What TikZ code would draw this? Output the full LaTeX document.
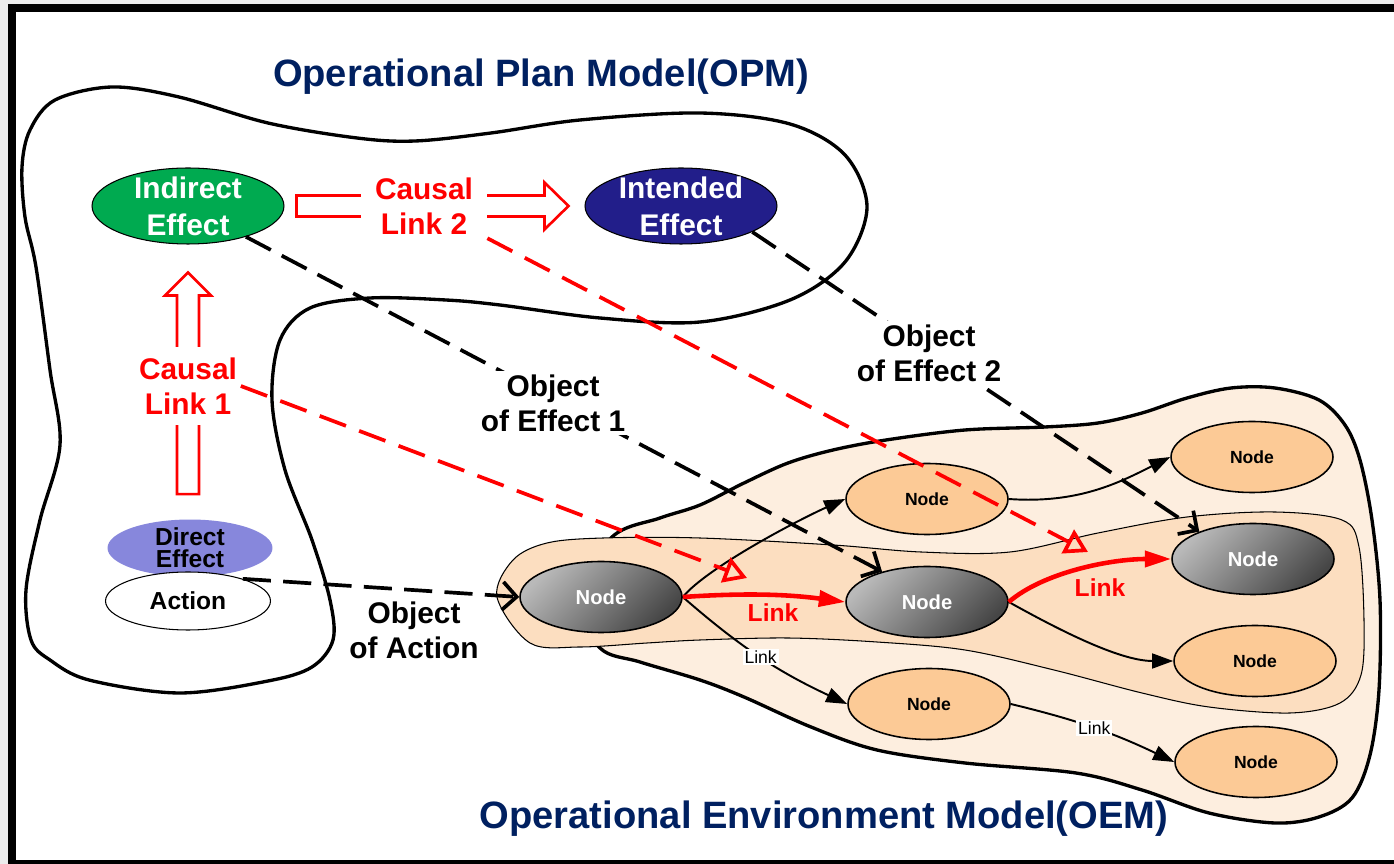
\documentclass[tikz,border=0pt]{standalone}
\usepackage{fontspec}
\setmainfont{Liberation Sans}
\usetikzlibrary{calc,shapes.geometric,arrows.meta}

\definecolor{framegray}{RGB}{236,236,236}
\definecolor{opmnavy}{RGB}{0,32,96}
\definecolor{effgreen}{RGB}{0,170,80}
\definecolor{effnavy}{RGB}{34,30,138}
\definecolor{effviolet}{RGB}{135,135,220}
\definecolor{oemout}{RGB}{253,238,223}
\definecolor{oemin}{RGB}{252,222,192}
\definecolor{nodelite}{RGB}{252,202,150}
\definecolor{nodehi}{RGB}{185,185,185}
\definecolor{nodelo}{RGB}{70,70,70}

\tikzset{
  effect/.style={ellipse, draw=black, line width=0.6pt, minimum width=3.84cm, minimum height=1.52cm,
    inner xsep=0pt, inner ysep=-6pt, align=center, text=white, font=\bfseries\fontsize{17}{21}\selectfont},
  cause/.style={ellipse, minimum width=3.3cm, minimum height=1.14cm, inner sep=0pt, align=center,
    font=\bfseries\fontsize{14}{12.5}\selectfont},
  env/.style={ellipse, draw=black, line width=0.9pt, minimum width=3.24cm, minimum height=1.42cm, inner sep=0pt},
  lite/.style={env, fill=nodelite, font=\bfseries\fontsize{10}{12}\selectfont},
  dark/.style={env, top color=nodehi, bottom color=nodelo, shading angle=45, text=white,
    font=\bfseries\fontsize{11.5}{14}\selectfont},
  fat/.style={draw=red, line width=1.5pt, fill=white},
  redtxt/.style={text=red, align=center, font=\bfseries\fontsize{17}{20}\selectfont},
  blktxt/.style={align=center, font=\bfseries\fontsize{17}{20}\selectfont},
  titletxt/.style={text=opmnavy, font=\bfseries\fontsize{21.7}{25}\selectfont},
  lnk/.style={line width=1.1pt, -{Triangle[length=12pt,width=8.5pt]}},
  redlnk/.style={red, line width=2.6pt, -{Triangle[length=15pt,width=9pt]}},
  lnktxt/.style={fill=white, inner sep=1pt, font=\fontsize{10}{12}\selectfont},
  objdash/.style={line width=2.1pt, dash pattern=on 16pt off 7pt, -{Straight Barb[length=8pt,width=16pt]}},
  reddash/.style={red, line width=2.1pt, dash pattern=on 16pt off 8pt, -{Triangle[open,length=13pt,width=15pt]}},
}

\begin{document}
\begin{tikzpicture}[x=0.02cm,y=-0.02cm]
    %%%%% START %%%%%
    \useasboundingbox (0,0) rectangle (1394,864);
    \clip (0,0) rectangle (1394,864);
    \fill[framegray] (0,0) rectangle (1394,864);
    \fill[black] (8,4) rectangle (1400,870);
    \fill[white] (16,12) rectangle (1400,860);

    % environment model
    \draw[fill=oemout, line width=1.9pt] plot[smooth cycle, tension=0.55] coordinates {
      (575,598) (612,537) (660,518) (700,505) (744,483) (788,463) (833,450) (886,440) (965,430)
      (1045,427) (1098,423) (1142,413) (1187,398) (1231,388) (1275,388) (1319,400) (1345,425)
      (1360,460) (1372,520) (1380,600) (1379,690) (1370,755) (1352,798) (1319,817) (1275,823)
      (1209,813) (1142,790) (1076,773) (965,763) (877,750) (811,727) (744,697) (700,680)
      (640,662) (600,648)};
    \draw[fill=oemin, line width=0.6pt] plot[smooth cycle, tension=0.55] coordinates {
      (497,597) (513,560) (547,543) (603,538) (700,538) (833,545) (921,552) (1010,552)
      (1098,533) (1187,517) (1275,512) (1342,520) (1359,547) (1364,620) (1361,675) (1340,703)
      (1290,713) (1209,707) (1142,693) (1054,670) (965,650) (877,642) (788,638) (700,640)
      (647,643) (580,647) (530,643)};

    % plan model
    \draw[line width=1.9pt] plot[smooth cycle, tension=0.55] coordinates {
      (112,87) (179,97) (268,123) (357,138) (415,141) (491,133) (580,120) (700,113) (790,124)
      (845,155) (867,207) (845,262) (790,300) (700,322) (600,318) (500,305) (446,300) (370,298)
      (310,308) (280,340) (272,400) (285,470) (312,540) (330,600) (333,640) (312,667) (268,681)
      (179,693) (89,680) (50,660) (31,640) (26,590) (40,520) (60,445) (50,370) (36,267)
      (25,217) (22,167) (30,130) (55,100)};

    \node[titletxt] (opm) at (541,77) {Operational Plan Model(OPM)};
    \node[titletxt] (oem) at (824,819) {Operational Environment Model(OEM)};

    \node[effect, fill=effgreen] (ind) at (188,206) {Indirect\\Effect};
    \node[effect, fill=effnavy] (int) at (681,206) {Intended\\Effect};
    \node[cause, fill=effviolet] (dir) at (190,548) {Direct\\Effect};
    \node[cause, draw=black, line width=0.6pt, fill=white, minimum height=1.16cm] (act) at (188,601) {Action};

    % hollow causal arrows
    \coordinate (cl1s) at ($(dir.north)+(-2,-25)$);
    \coordinate (cl1t) at ($(ind.south)+(0,28)$);
    \draw[fat] ($(cl1s)+(-11,0)$) -- ($(cl1t)+(-11,23)$) -- ($(cl1t)+(-23,23)$) -- (cl1t)
      -- ($(cl1t)+(23,23)$) -- ($(cl1t)+(11,23)$) -- ($(cl1s)+(11,0)$) -- cycle;
    \coordinate (cl2s) at ($(ind.east)+(12,0)$);
    \coordinate (cl2t) at ($(int.west)+(-16,0)$);
    \draw[fat] ($(cl2s)+(0,-10.5)$) -- ($(cl2t)+(-24,-10.5)$) -- ($(cl2t)+(-24,-23.5)$) -- (cl2t)
      -- ($(cl2t)+(-24,23.5)$) -- ($(cl2t)+(-24,10.5)$) -- ($(cl2s)+(0,10.5)$) -- cycle;
    \node[redtxt, fill=white, inner xsep=2pt, inner ysep=6pt] (cl1) at (188,386) {Causal\\Link 1};
    \node[redtxt, fill=white, inner xsep=8pt, inner ysep=2pt] (cl2) at (424,206) {Causal\\Link 2};

    % environment nodes
    \node[dark] (n1) at (601,597) {Node};
    \node[dark] (n2) at (927,602) {Node};
    \node[dark] (n3) at (1253,559) {Node};
    \node[lite] (n4) at (927,499) {Node};
    \node[lite] (n5) at (1252,457) {Node};
    \node[lite] (n6) at (1255,661) {Node};
    \node[lite] (n7) at (929,704) {Node};
    \node[lite] (n8) at (1256,762) {Node};

    \draw[lnk] (n1.east) .. controls +(25,-30) and +(-45,20) .. (n4.west);
    \draw[lnk] (n1.east) to[bend right=8] node[lnktxt, pos=0.5] (lk17) {Link} (n7.west);
    \draw[lnk] (n4.east) .. controls +(70,5) and +(-50,25) .. (n5.west);
    \draw[lnk] (n2.east) .. controls +(45,25) and +(-55,0) .. (n6.west);
    \draw[lnk] (n7.east) to[bend left=6] node[lnktxt, pos=0.5] (lk78) {Link} (n8.west);
    \draw[redlnk] (n1.east) .. controls +(60,-4) and +(-60,-8) .. (n2.west);
    \draw[redlnk] (n2.east) .. controls +(35,-30) and +(-60,0) .. (n3.west);
    \node[redtxt, font=\bfseries\fontsize{14}{16}\selectfont] (lk12) at (773,613) {Link};
    \node[redtxt, font=\bfseries\fontsize{14}{16}\selectfont] (lk23) at (1100,588) {Link};

    % objects of action and effects
    \coordinate (lk1) at (747,578);
    \coordinate (lk2) at (1088,552);
    \draw[objdash] (act.22) -- (n1.west);
    \draw[objdash] (ind.-28) -- (n2.146);
    \draw[objdash] (int.-20) -- (n3.153);
    \draw[reddash] (cl1.east) -- (lk1);
    \draw[reddash] (cl2.south east) -- (lk2);

    \node[blktxt] (ooa) at (414,630) {Object\\of Action};
    \node[blktxt, fill=white, inner sep=2pt] (oe1) at (553,403) {Object\\of Effect 1};
    \node[blktxt, fill=white, inner sep=2pt] (oe2) at (929,353) {Object\\of Effect 2};
    %%%%% END %%%%%
\end{tikzpicture}
\end{document}
